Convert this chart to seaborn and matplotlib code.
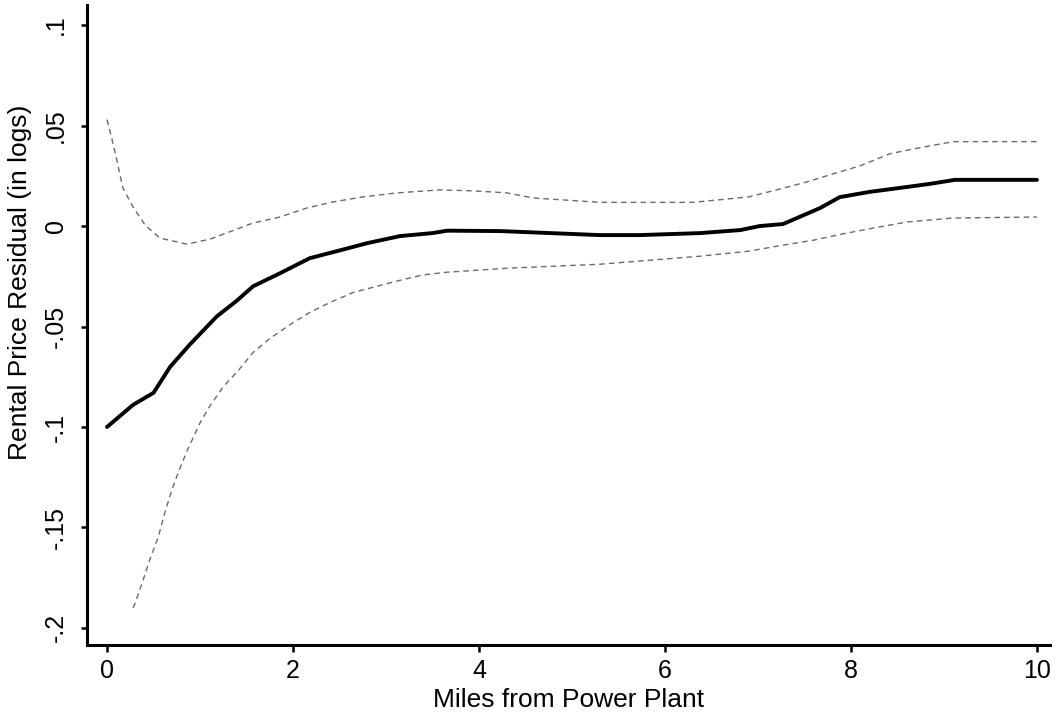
import numpy as np
import pandas as pd
import matplotlib as mpl
mpl.use('Agg')
import matplotlib.pyplot as plt
import seaborn as sns

# fitted residual (solid line)
fit_miles = [0, 0.28, 0.50, 0.68, 0.89, 1.18, 1.40, 1.57, 1.86, 2.18, 2.43, 2.80,
             3.15, 3.50, 3.66, 4.23, 4.66, 5.30, 5.73, 6.38, 6.81, 7.02, 7.27,
             7.45, 7.67, 7.88, 8.20, 8.53, 8.85, 9.12, 9.50, 10.0]
fit_resid = [-0.100, -0.089, -0.083, -0.070, -0.059, -0.045, -0.037, -0.030, -0.0235,
             -0.016, -0.013, -0.0085, -0.005, -0.0035, -0.0023, -0.0025, -0.0033,
             -0.0045, -0.0045, -0.0035, -0.002, 0.0, 0.001, 0.0046, 0.009, 0.0144,
             0.017, 0.019, 0.021, 0.023, 0.023, 0.023]

# upper confidence band
hi_miles = [0, 0.05, 0.11, 0.17, 0.28, 0.41, 0.57, 0.86, 1.11, 1.57, 1.86, 2.15,
            2.43, 2.75, 3.12, 3.58, 3.94, 4.30, 4.58, 5.30, 6.30, 6.90, 7.20,
            7.53, 7.81, 8.10, 8.42, 8.74, 9.10, 9.50, 10.0]
hi_resid = [0.053, 0.044, 0.032, 0.019, 0.0095, 0.0005, -0.006, -0.009, -0.0065,
            0.0015, 0.0045, 0.009, 0.012, 0.0145, 0.0165, 0.018, 0.0175, 0.0165,
            0.014, 0.0118, 0.0118, 0.0145, 0.018, 0.022, 0.026, 0.030, 0.036,
            0.039, 0.042, 0.042, 0.042]

# lower confidence band
lo_miles = [0.28, 0.30, 0.39, 0.46, 0.55, 0.62, 0.70, 0.78, 0.87, 1.0, 1.10, 1.25,
            1.40, 1.57, 1.75, 1.97, 2.18, 2.40, 2.65, 2.90, 3.15, 3.40, 3.65,
            4.30, 5.30, 5.84, 6.38, 6.90, 7.27, 7.60, 7.90, 8.24, 8.60, 9.10, 10.0]
lo_resid = [-0.190, -0.188, -0.176, -0.166, -0.155, -0.143, -0.131, -0.121, -0.111,
            -0.098, -0.090, -0.080, -0.0725, -0.063, -0.056, -0.049, -0.043, -0.038,
            -0.033, -0.030, -0.027, -0.0243, -0.023, -0.021, -0.019, -0.017, -0.015,
            -0.0125, -0.0095, -0.007, -0.004, -0.001, 0.002, 0.004, 0.0045]

x_ticks = [0, 2, 4, 6, 8, 10]
y_ticks = [-0.2, -0.15, -0.1, -0.05, 0, 0.05, 0.1]
y_labels = ['-.2', '-.15', '-.1', '-.05', '0', '.05', '.1']

sns.set_theme(style='white')
plt.rcParams['font.family'] = ['Liberation Sans', 'DejaVu Sans']
plt.rcParams.update({'text.color': 'black', 'axes.labelcolor': 'black',
                     'xtick.color': 'black', 'ytick.color': 'black'})

fig = plt.figure(figsize=(10.57, 7.17), dpi=100)
ax = fig.add_axes([0.0823, 0.1004, 0.911, 0.8926])

band_kw = dict(color='#6a6a6a', linewidth=1.0, dashes=(4, 3), ax=ax)
sns.lineplot(x=hi_miles, y=hi_resid, **band_kw)
sns.lineplot(x=lo_miles, y=lo_resid, **band_kw)
sns.lineplot(x=fit_miles, y=fit_resid, color='black', linewidth=2.8, ax=ax)

ax.set_xlim(-0.215, 10.14)
ax.set_ylim(-0.2085, 0.110)
ax.set_xticks(x_ticks)
ax.set_xticklabels([str(t) for t in x_ticks])
ax.set_yticks(y_ticks)
ax.set_yticklabels(y_labels, rotation=90, va='center')

for side in ['top', 'right']:
    ax.spines[side].set_visible(False)
for side in ['left', 'bottom']:
    ax.spines[side].set_color('black')
    ax.spines[side].set_linewidth(2.2)

ax.tick_params(axis='x', direction='out', length=5, width=1.8,
               labelsize=18, pad=5, bottom=True)
ax.tick_params(axis='y', direction='out', length=4, width=1.8,
               labelsize=18, pad=10, left=True)

ax.set_xlabel('Miles from Power Plant', fontsize=19, labelpad=4)
ax.set_ylabel('Rental Price Residual (in logs)', fontsize=19)
ax.yaxis.set_label_coords(-0.057, 0.566)

plt.savefig('out.png', dpi=100)
